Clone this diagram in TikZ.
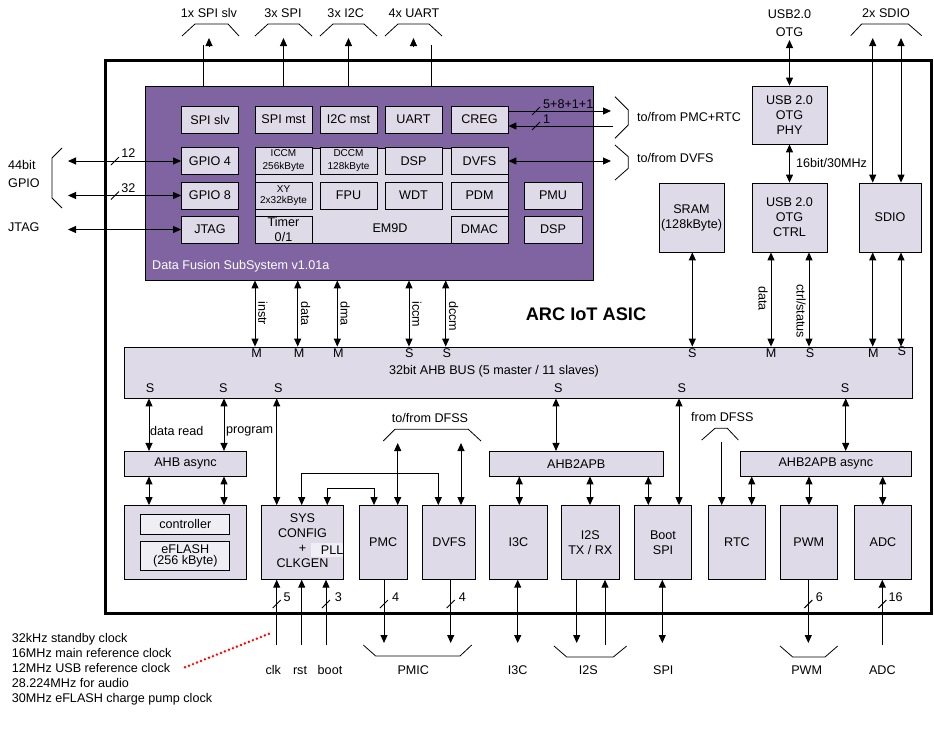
\documentclass[tikz,border=0pt]{standalone}
\usepackage{fontspec}
\setmainfont{Liberation Sans}
\usetikzlibrary{arrows.meta}
\definecolor{dfsspurple}{RGB}{128,100,162}
\definecolor{blockfill}{RGB}{222,218,231}
\definecolor{lightfill}{RGB}{240,238,245}
\tikzset{
  block/.style={
    draw,
    fill=blockfill,
    line width=0.8pt,
    inner sep=0pt,
    align=center
  },
  unit/.style={
    block,
    minimum width=57pt,
    minimum height=27pt
  },
  tall/.style={
    block,
    minimum height=73.8pt
  },
  both ways/.style={
    line width=1pt,
    {Triangle[length=8pt,width=7pt]}-{Triangle[length=8pt,width=7pt]}
  },
  one way/.style={
    line width=1pt,
    -{Triangle[length=8pt,width=7pt]}
  },
  wire/.style={line width=1pt},
  brace/.style={line width=0.8pt},
  vlabel/.style={rotate=-90, inner sep=1pt},
  small/.style={font=\fontsize{10}{13}\selectfont}
}

\begin{document}
\begin{tikzpicture}[x=1pt, y=-1pt, font=\fontsize{12.6}{15}\selectfont]
\useasboundingbox (0,0) rectangle (934,753);
\node (asic) at (518,336.5) [draw, line width=3pt, minimum width=826pt, minimum height=553pt, inner sep=0pt] {};
\node (title) at (586,314) [font=\fontsize{18.2}{20}\selectfont\bfseries] {ARC IoT ASIC};

% data fusion subsystem
\node (dfss) at (369,183) [draw, fill=dfsspurple, line width=0.8pt, minimum width=448pt, minimum height=194pt, inner sep=0pt] {};
\node (dfssname) at (152,266) [anchor=west, inner sep=0pt, white] {Data Fusion SubSystem v1.01a};
\node (spislv) at (210,119.5) [unit] {SPI slv};
\node (spimst) at (283.5,119.5) [unit] {SPI mst};
\node (i2cmst) at (348.5,119.5) [unit] {I2C mst};
\node (uart) at (413.5,119.5) [unit] {UART};
\node (creg) at (479.5,119.5) [unit] {CREG};
\node (gpiofour) at (210,161) [unit] {GPIO 4};
\node (gpioeight) at (210,195.5) [unit] {GPIO 8};
\node (jtag) at (210,229.5) [unit] {JTAG};
\node (em) at (381.5,195.5) [block, minimum width=253pt, minimum height=95pt] {};
\node (emname) at (390,228) {EM9D};
\node (iccm) at (283.5,161) [unit, small] {ICCM\\256kByte};
\node (dccm) at (348.5,161) [unit, small] {DCCM\\128kByte};
\node (dsp) at (413.5,161) [unit] {DSP};
\node (dvfs) at (479.5,161) [unit] {DVFS};
\node (xy) at (283.5,195.5) [unit, font=\fontsize{10}{11}\selectfont] {XY\\2x32kByte};
\node (fpu) at (348.5,195.5) [unit] {FPU};
\node (wdt) at (413.5,195.5) [unit] {WDT};
\node (pdm) at (479.5,195.5) [unit] {PDM};
\node (timer) at (283.5,229.5) [unit, font=\fontsize{12.6}{14.3}\selectfont] {Timer\\0/1};
\node (dmac) at (479.5,229.5) [unit] {DMAC};
\node (pmu) at (553,195.5) [unit, minimum width=58pt] {PMU};
\node (dspb) at (553,229.5) [unit, minimum width=58pt] {DSP};

% usb, sram, sdio
\node (phy) at (789.5,115) [block, minimum width=75pt, minimum height=58pt] {USB 2.0\\OTG\\PHY};
\node (otgctrl) at (789.5,217.5) [block, minimum width=75pt, minimum height=69pt] {USB 2.0\\OTG\\CTRL};
\node (sram) at (691.5,217.5) [block, minimum width=65pt, minimum height=69pt] {SRAM\\(128kByte)};
\node (sdio) at (890,217.5) [block, minimum width=62pt, minimum height=69pt] {SDIO};

% bus
\node (bus) at (518,372.5) [block, minimum width=788pt, minimum height=51pt] {};
\node (busname) at (494,371) {32bit AHB BUS (5 master / 11 slaves)};

% lower row
\node (ahbasync) at (185.5,463.7) [block, minimum width=122pt, minimum height=24.7pt] {AHB async};
\node (flash) at (185.5,542.4) [tall, minimum width=122pt] {};
\node (ctrlr) at (185.3,524.3) [block, fill=lightfill, minimum width=89pt, minimum height=20pt] {controller};
\node (eflash) at (185.3,555.8) [block, fill=lightfill, minimum width=89pt, minimum height=28.3pt, font=\fontsize{12.6}{11.5}\selectfont] {eFLASH\\(256 kByte)};
\node (sys) at (302.5,542.4) [tall, minimum width=81.6pt] {};
\node (pll) at (327.2,550) [fill=lightfill, inner sep=0pt, minimum height=14pt, text width=32.3pt, align=right] {PLL};
\node (sysname) at (302.5,540.3) [align=center] {SYS\\CONFIG\\+\\CLKGEN};
\node (pmc) at (383.2,542.4) [tall, minimum width=48.3pt] {PMC};
\node (dvfsb) at (449.2,542.4) [tall, minimum width=53pt] {DVFS};
\node (apb) at (576.3,463.7) [block, minimum width=174pt, minimum height=24.7pt] {AHB2APB};
\node (i3c) at (518.3,542.4) [tall, minimum width=58pt] {I3C};
\node (i2s) at (590.3,542.4) [tall, minimum width=57.3pt] {I2S\\TX / RX};
\node (bootspi) at (663,542.4) [tall, minimum width=57.4pt] {Boot\\SPI};
\node (rtc) at (737,542.4) [tall, minimum width=57.4pt] {RTC};
\node (pwm) at (808.8,542.4) [tall, minimum width=57.7pt] {PWM};
\node (adc) at (883,542.4) [tall, minimum width=57.4pt] {ADC};
\node (apbasync) at (825.8,463.7) [block, minimum width=171.7pt, minimum height=24.7pt] {AHB2APB async};

% top pins
\coordinate (spislvtip) at (209,38);
\coordinate (spislvend) at (203,45);
\coordinate (spiout) at (283.5,38);
\coordinate (i2cout) at (348.5,38);
\coordinate (uarttip) at (413.5,38);
\coordinate (uartend) at (431.7,45);
\draw [wire] (dfss.north -| spislvend) -- (spislvend);
\draw [one way] (209,47) -- (spislvtip);
\draw [one way] (dfss.north -| spiout) -- (spiout);
\draw [one way] (dfss.north -| i2cout) -- (i2cout);
\draw [wire] (dfss.north -| uartend) -- (uartend);
\draw [one way] (413.5,47) -- (uarttip);
\draw [brace] (182,36) -- (195,24) -- (228,24) -- (239,36);
\draw [brace] (255,36) -- (268,24) -- (299,24) -- (312,36);
\draw [brace] (320,36) -- (333,24) -- (364,24) -- (377,36);
\draw [brace] (385,36) -- (398,24) -- (429,24) -- (442,36);
\node (spislvpins) at (209,13) {1x SPI slv};
\node (spipins) at (283,13) {3x SPI};
\node (i2cpins) at (345.7,13) {3x I2C};
\node (uartpins) at (414,13) {4x UART};

\node (usbpins) at (789.5,23.3) [align=center, font=\fontsize{12.6}{18}\selectfont] {USB2.0\\OTG};
\coordinate (usbio) at (789.5,40);
\draw [both ways] (usbio) -- (phy);
\draw [both ways] (phy) -- (otgctrl);
\node (usbrate) at (796,163) [anchor=west, inner sep=0pt] {16bit/30MHz};
\node (sdiopins) at (886,13) {2x SDIO};
\draw [brace] (850.7,35.7) -- (861.7,24) -- (908.3,24) -- (921.7,35.7);
\coordinate (sdioa) at (872.7,38);
\coordinate (sdiob) at (901,38);
\draw [both ways] (sdioa) -- (sdio.north -| sdioa);
\draw [both ways] (sdiob) -- (sdio.north -| sdiob);

% left pins
\coordinate (gpioa) at (68,161);
\coordinate (gpiob) at (68,195.5);
\coordinate (jtagio) at (68,229.5);
\draw [both ways] (gpiofour) -- (gpioa);
\draw [both ways] (gpioeight) -- (gpiob);
\draw [both ways] (jtag) -- (jtagio);
\draw [wire] (111,165) -- (119,157);
\draw [wire] (111,199.5) -- (119,191.5);
\node (ngpioa) at (128.3,153) {12};
\node (ngpiob) at (128.3,188) {32};
\draw [brace] (62,148) -- (52,158) -- (52,198) -- (62,208);
\node (gpiopins) at (8,174) [anchor=west, align=left, inner sep=0pt, font=\fontsize{12.6}{18}\selectfont] {44bit\\GPIO};
\node (jtagpins) at (8,227) [anchor=west, inner sep=0pt] {JTAG};

% right side of dfss
\coordinate (crego) at (611,111);
\coordinate (cregi) at (613,126);
\coordinate (dvfsio) at (611,161);
\draw [one way] (creg.east |- crego) -- (crego);
\draw [one way] (cregi) -- (creg.east |- cregi);
\draw [wire] (532,115) -- (540,107);
\draw [wire] (532,130) -- (540,122);
\node (ncrego) at (543,104) [anchor=west, inner sep=0pt] {5+8+1+1};
\node (ncregi) at (543,119) [anchor=west, inner sep=0pt] {1};
\draw [both ways] (dvfs) -- (dvfsio);
\draw [brace] (615,96.7) -- (628.3,110) -- (628.3,125) -- (615,138.3);
\draw [brace] (615,145) -- (628.3,156.7) -- (628.3,168.3) -- (615,180);
\node (pmcrtc) at (637,117) [anchor=west, inner sep=0pt] {to/from PMC+RTC};
\node (todvfs) at (637,158) [anchor=west, inner sep=0pt] {to/from DVFS};

% masters and slaves on the bus
\draw [both ways] (dfss.south -| 255,0) -- (bus.north -| 255,0);
\draw [both ways] (dfss.south -| 297.7,0) -- (bus.north -| 297.7,0);
\draw [both ways] (dfss.south -| 337.3,0) -- (bus.north -| 337.3,0);
\draw [both ways] (dfss.south -| 409,0) -- (bus.north -| 409,0);
\draw [both ways] (dfss.south -| 445.7,0) -- (bus.north -| 445.7,0);
\node (linstr) at (257,300) [vlabel, anchor=south west] {instr};
\node (ldata) at (299.7,300) [vlabel, anchor=south west] {data};
\node (ldma) at (339.3,300) [vlabel, anchor=south west] {dma};
\node (liccm) at (411,300) [vlabel, anchor=south west] {iccm};
\node (ldccm) at (447.7,300) [vlabel, anchor=south west] {dccm};
\draw [both ways] (sram.south -| 692.3,0) -- (bus.north -| 692.3,0);
\draw [both ways] (otgctrl.south -| 771,0) -- (bus.north -| 771,0);
\draw [both ways] (otgctrl.south -| 809,0) -- (bus.north -| 809,0);
\draw [both ways] (sdio.south -| sdioa) -- (bus.north -| sdioa);
\draw [both ways] (sdio.south -| sdiob) -- (bus.north -| sdiob);
\node (lusbdata) at (769,285) [vlabel, anchor=north west] {data};
\node (lusbctrl) at (807,283) [vlabel, anchor=north west] {ctrl/status};
\node (ma) at (256.7,353) {M};
\node (mb) at (299,353) {M};
\node (mc) at (338.3,353) {M};
\node (sa) at (409.3,353) {S};
\node (sb) at (446.7,353) {S};
\node (sc) at (692.3,353) {S};
\node (md) at (771,353) {M};
\node (sd) at (810,353) {S};
\node (me) at (873.3,353) {M};
\node (se) at (901.7,351) {S};
\node (sf) at (150,388) {S};
\node (sg) at (223.3,388) {S};
\node (sh) at (278.3,388) {S};
\node (si) at (558.3,388) {S};
\node (sj) at (681.7,388) {S};
\node (sk) at (845,388) {S};

% bus to lower row
\draw [both ways] (bus.south -| 149,0) -- (ahbasync.north -| 149,0);
\draw [both ways] (bus.south -| 224,0) -- (ahbasync.north -| 224,0);
\node (ldataread) at (150,431) [anchor=west, inner sep=0pt] {data read};
\node (lprogram) at (226,431) [anchor=west, inner sep=0pt] {program};
\draw [both ways] (ahbasync.south -| 149,0) -- (flash.north -| 149,0);
\draw [both ways] (ahbasync.south -| 224,0) -- (flash.north -| 224,0);
\draw [both ways] (bus.south -| 276.7,0) -- (sys.north -| 276.7,0);
\draw [both ways] (bus.south -| 556,0) -- (apb.north -| 556,0);
\draw [both ways] (bus.south -| 679,0) -- (bootspi.north -| 679,0);
\draw [both ways] (bus.south -| 845.7,0) -- (apbasync.north -| 845.7,0);
\draw [both ways] (apb.south -| 519.3,0) -- (i3c.north -| 519.3,0);
\draw [both ways] (apb.south -| 590,0) -- (i2s.north -| 590,0);
\draw [both ways] (apb.south -| 648.3,0) -- (bootspi.north -| 648.3,0);
\draw [both ways] (apbasync.south -| 751.7,0) -- (rtc.north -| 751.7,0);
\draw [both ways] (apbasync.south -| 809,0) -- (pwm.north -| 809,0);
\draw [both ways] (apbasync.south -| 882.7,0) -- (adc.north -| 882.7,0);
\draw [both ways] (sys.north -| 301.7,0) -- (301.7,473.3) -| (dvfsb.north -| 438.3,0);
\draw [both ways] (sys.north -| 327.3,0) -- (327.3,488.7) -| (pmc.north -| 374,0);

% to/from DFSS
\coordinate (dfssa) at (397.7,443);
\coordinate (dfssb) at (461,443);
\draw [both ways] (dfssa) -- (pmc.north -| dfssa);
\draw [both ways] (dfssb) -- (dvfsb.north -| dfssb);
\draw [brace] (383.3,441) -- (395,429.3) -- (468.3,429.3) -- (481,441);
\node (todfss) at (430,418.3) {to/from DFSS};
\coordinate (rtcin) at (721.7,441.7);
\draw [one way] (rtcin) -- (rtc.north -| rtcin);
\draw [brace] (701.7,440) -- (715,428.3) -- (727.3,428.3) -- (738.3,440);
\node (fromdfss) at (722.3,416.7) {from DFSS};

% bottom pins
\coordinate (clk) at (276.7,645);
\coordinate (rst) at (301.7,645);
\coordinate (boot) at (326,645);
\coordinate (pmica) at (384,643);
\coordinate (pmicb) at (450.7,643);
\coordinate (ithreec) at (517.7,643);
\coordinate (i2sout) at (576.7,643);
\coordinate (i2sin) at (605,645);
\coordinate (spiio) at (662.3,643);
\coordinate (pwmout) at (808.3,643);
\coordinate (adcin) at (882.3,645);
\draw [one way] (clk) -- (sys.south -| clk);
\draw [one way] (rst) -- (sys.south -| rst);
\draw [one way] (boot) -- (sys.south -| boot);
\draw [one way] (pmc.south -| pmica) -- (pmica);
\draw [one way] (dvfsb.south -| pmicb) -- (pmicb);
\draw [both ways] (i3c.south -| ithreec) -- (ithreec);
\draw [one way] (i2s.south -| i2sout) -- (i2sout);
\draw [one way] (i2sin) -- (i2s.south -| i2sin);
\draw [both ways] (bootspi.south -| spiio) -- (spiio);
\draw [one way] (pwm.south -| pwmout) -- (pwmout);
\draw [one way] (adcin) -- (adc.south -| adcin);
\draw [wire] (272.7,608) -- (280.7,600);
\draw [wire] (322,608) -- (330,600);
\draw [wire] (380,608) -- (388,600);
\draw [wire] (446.7,608) -- (454.7,600);
\draw [wire] (804.3,608) -- (812.3,600);
\draw [wire] (878.3,608) -- (886.3,600);
\node (nclk) at (287,597) {5};
\node (nboot) at (338.3,597) {3};
\node (npmc) at (395.7,597) {4};
\node (ndvfs) at (462.3,597) {4};
\node (npwm) at (819.3,597) {6};
\node (nadc) at (895.7,597) {16};
\draw [brace] (363.3,645) -- (375.7,656) -- (460,656) -- (471.7,645);
\draw [brace] (554,646) -- (566.7,657) -- (613.3,657) -- (626.7,646);
\draw [brace] (780,646) -- (792.7,657) -- (825,657) -- (837.7,646);
\node (lclk) at (273.3,670) {clk};
\node (lrst) at (300,670) {rst};
\node (lboot) at (330,670) {boot};
\node (lpmic) at (413.3,670) {PMIC};
\node (li3c) at (517.7,670) {I3C};
\node (li2s) at (588.3,670) {I2S};
\node (lspi) at (663.3,670) {SPI};
\node (lpwm) at (806.7,670) {PWM};
\node (ladc) at (882.3,670) {ADC};

% clock sources
\node (clocks) at (11.7,633) [anchor=north west, align=left, inner sep=0pt] {32kHz standby clock\\16MHz main reference clock\\12MHz USB reference clock\\28.224MHz for audio\\30MHz eFLASH charge pump clock};
\draw [red, line width=2.7pt, line cap=round, dash pattern=on 0pt off 4.3pt] (185,667.3) -- (271.7,632.7);
\end{tikzpicture}
\end{document}
